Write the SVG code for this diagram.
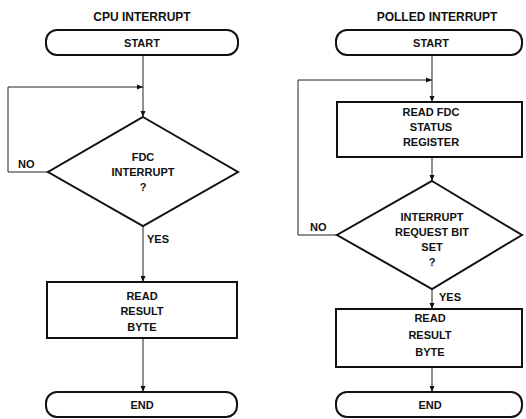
<svg xmlns="http://www.w3.org/2000/svg" width="526" height="419" viewBox="0 0 526 419">
<defs>
<marker id="arr" markerWidth="6" markerHeight="6" refX="6" refY="3" orient="auto" markerUnits="userSpaceOnUse">
<path d="M0,0.5 L6,3 L0,5.5 Z" fill="#111"/>
</marker>
</defs>
<style>
.shape{fill:#fff;stroke:#111;stroke-width:2}
.conn{fill:none;stroke:#222;stroke-width:1}
text{font-family:"Liberation Sans",Arial,sans-serif;font-weight:bold;font-size:11px;fill:#111;text-anchor:middle}
.title{font-size:12px}
.lbl{text-anchor:start}
</style>
<rect width="526" height="419" fill="#fff"/>
<text class="title" x="142" y="21">CPU INTERRUPT</text>
<text class="title" x="437" y="21">POLLED INTERRUPT</text>
<g id="connectors">
<line class="conn" x1="143" y1="55" x2="143" y2="117" marker-end="url(#arr)"/>
<polyline class="conn" points="48,172 8,172 8,87 143,87" marker-end="url(#arr)"/>
<line class="conn" x1="143" y1="226" x2="143" y2="282" marker-end="url(#arr)"/>
<line class="conn" x1="143" y1="338" x2="143" y2="392" marker-end="url(#arr)"/>
<line class="conn" x1="432" y1="55" x2="432" y2="102" marker-end="url(#arr)"/>
<polyline class="conn" points="337,235 298,235 298,80 432,80" marker-end="url(#arr)"/>
<line class="conn" x1="432" y1="157" x2="432" y2="181" marker-end="url(#arr)"/>
<line class="conn" x1="432" y1="289" x2="432" y2="309" marker-end="url(#arr)"/>
<line class="conn" x1="432" y1="367" x2="432" y2="392" marker-end="url(#arr)"/>
<text class="lbl" x="18" y="168">NO</text>
<text class="lbl" x="147" y="243">YES</text>
<text class="lbl" x="310" y="231">NO</text>
<text class="lbl" x="439" y="301">YES</text>
</g>
<g id="start1">
<rect class="shape" x="46" y="30" width="192" height="25" rx="11"/>
<text x="142" y="47">START</text>
</g>
<g id="decision1">
<polygon class="shape" points="143,117 238,172 143,226 48,172"/>
<text x="143" y="161">FDC</text>
<text x="143" y="176">INTERRUPT</text>
<text x="143" y="191">?</text>
</g>
<g id="read1">
<rect class="shape" x="47" y="282" width="190" height="56"/>
<text x="142" y="300">READ</text>
<text x="142" y="315">RESULT</text>
<text x="142" y="331">BYTE</text>
</g>
<g id="end1">
<rect class="shape" x="46" y="392" width="191" height="25" rx="11"/>
<text x="142" y="409">END</text>
</g>
<g id="start2">
<rect class="shape" x="336" y="30" width="186" height="25" rx="11"/>
<text x="431" y="47">START</text>
</g>
<g id="readstatus">
<rect class="shape" x="337" y="102" width="185" height="55"/>
<text x="431" y="116">READ FDC</text>
<text x="431" y="131">STATUS</text>
<text x="431" y="146">REGISTER</text>
</g>
<g id="decision2">
<polygon class="shape" points="432,181 522,235 432,289 337,235"/>
<text x="432" y="221">INTERRUPT</text>
<text x="432" y="236">REQUEST BIT</text>
<text x="432" y="251">SET</text>
<text x="432" y="266">?</text>
</g>
<g id="read2">
<rect class="shape" x="336" y="309" width="186" height="58"/>
<text x="430" y="322">READ</text>
<text x="430" y="339">RESULT</text>
<text x="430" y="356">BYTE</text>
</g>
<g id="end2">
<rect class="shape" x="336" y="392" width="186" height="25" rx="11"/>
<text x="430" y="409">END</text>
</g>
</svg>
